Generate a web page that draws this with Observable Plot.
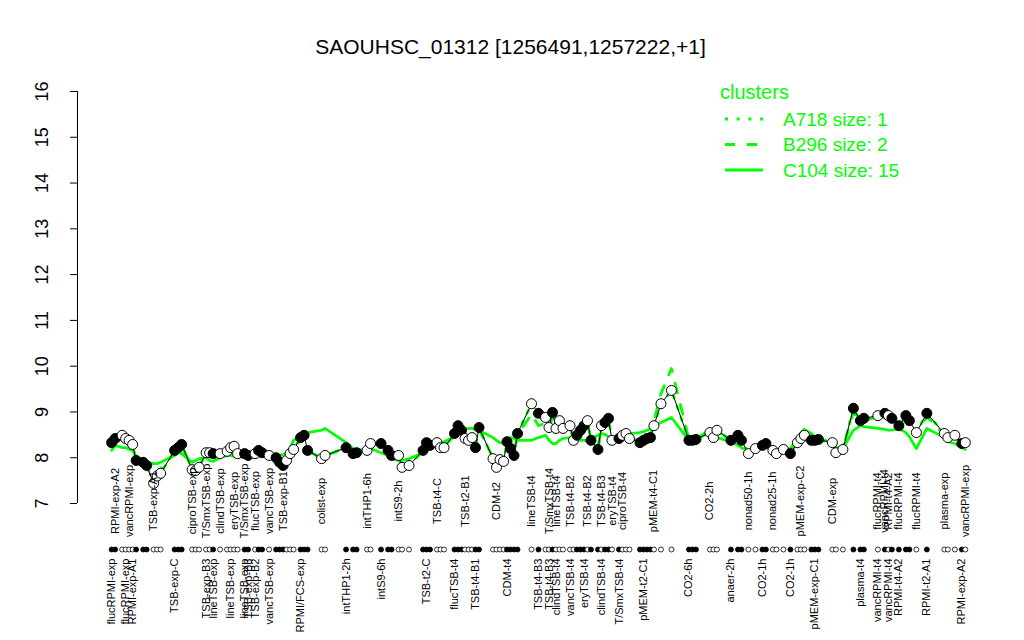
<!DOCTYPE html>
<html><head><meta charset="utf-8">
<script src="https://cdn.jsdelivr.net/npm/d3@7"></script>
<script src="https://cdn.jsdelivr.net/npm/@observablehq/plot@0.6"></script>
<style>body{margin:0;background:#fff;} #chart{position:relative;width:1024px;height:640px;}</style>
</head><body><div id="chart"></div>
<script>
const title = "SAOUHSC_01312 [1256491,1257222,+1]";
const yTicks = [7,8,9,10,11,12,13,14,15,16];

// sample order position of each condition
const positions = [0,1,3,4,5,6,7,9,10,12,
 13,14,18,19,20,23,24,25,27,28,
 29,31,33,34,35,36,38,39,41,42,
 43,45,47,48,49,50,51,52,54,55,
 56,60,61,67,69,70,73,74,77,79,
 80,82,83,85,89,90,91,93,94,95,
 98,99,100,101,102,103,104,105,109,110,
 111,112,113,114,115,116,120,122,124,125,
 126,127,128,129,131,132,133,134,135,136,
 137,139,140,141,142,143,145,146,147,148,
 151,152,153,154,155,157,160,165,166,167,
 171,172,173,177,179,180,182,184,186,187,
 189,190,192,194,196,197,198,200,201,202,
 206,207,209,212,214,215,219,221,222,223,
 225,227,228,230,233,238,239,241,243,244];

// expression of this gene
const values = [8.33,8.42,8.49,8.42,8.38,8.29,7.94,7.90,7.83,7.44,
 7.60,7.66,8.16,8.22,8.29,7.74,7.72,7.79,8.11,8.11,
 8.09,8.09,8.14,8.22,8.25,8.09,8.09,8.05,8.09,8.16,
 8.11,8.05,8.00,7.90,7.83,7.94,8.09,8.18,8.44,8.49,
 8.16,7.98,8.05,8.22,8.09,8.11,8.16,8.31,8.31,8.16,
 8.05,8.05,7.79,7.83,8.16,8.33,8.27,8.33,8.22,8.22,
 8.53,8.70,8.60,8.42,8.38,8.44,8.22,8.66,7.98,7.79,
 7.96,7.92,8.35,8.20,8.05,8.53,9.18,8.97,8.88,8.66,
 8.99,8.64,8.81,8.64,8.70,8.38,8.49,8.60,8.70,8.81,
 8.38,8.18,8.70,8.77,8.86,8.38,8.42,8.49,8.53,8.42,
 8.33,8.38,8.42,8.44,8.70,9.18,9.47,8.38,8.38,8.40,
 8.55,8.44,8.60,8.38,8.49,8.38,8.09,8.20,8.27,8.31,
 8.16,8.09,8.18,8.09,8.33,8.42,8.49,8.38,8.38,8.40,
 8.33,8.11,8.18,9.08,8.81,8.86,8.92,8.97,8.92,8.86,
 8.70,8.92,8.81,8.55,8.97,8.53,8.44,8.49,8.31,8.33];

// 1 = filled group marker, 0 = open
const filled = [1,1,0,0,0,0,1,1,1,0,
 0,0,1,1,1,0,0,0,0,0,
 1,0,0,0,0,0,1,1,0,1,
 1,0,1,1,1,0,0,0,1,1,
 1,0,0,1,1,1,0,0,1,1,
 1,0,0,0,1,1,1,0,0,0,
 1,1,1,0,0,0,1,1,0,0,
 0,0,1,1,1,1,0,1,0,0,
 1,0,0,0,0,0,1,1,1,0,
 1,1,0,1,1,0,1,0,0,0,
 1,1,1,1,0,0,0,1,1,1,
 0,0,0,1,1,1,0,0,1,1,
 0,0,0,1,0,0,0,1,1,1,
 0,0,0,1,1,1,0,1,0,1,
 1,1,1,0,1,0,0,0,1,0];

// cluster mean profiles
const clusterC104 = [8.16,8.27,8.22,8.22,8.18,8.16,8.03,7.94,7.90,7.87,
 7.87,7.90,8.05,8.11,8.09,7.90,7.94,7.98,8.00,7.94,
 7.92,8.00,8.05,8.05,8.03,8.00,8.03,8.00,8.03,8.05,
 8.07,8.03,8.05,8.05,8.07,8.11,8.20,8.38,8.49,8.53,
 8.55,8.60,8.64,8.33,8.20,8.16,8.20,8.20,8.11,8.05,
 7.98,7.94,7.94,7.98,8.11,8.16,8.20,8.27,8.31,8.35,
 8.46,8.55,8.60,8.62,8.64,8.64,8.62,8.60,8.44,8.38,
 8.33,8.33,8.42,8.44,8.42,8.38,8.38,8.44,8.49,8.38,
 8.31,8.31,8.38,8.42,8.44,8.42,8.40,8.38,8.38,8.38,
 8.42,8.49,8.53,8.51,8.46,8.44,8.46,8.49,8.51,8.53,
 8.55,8.57,8.60,8.64,8.70,8.77,8.88,8.38,8.38,8.42,
 8.60,8.49,8.44,8.35,8.27,8.22,8.16,8.22,8.27,8.22,
 8.16,8.16,8.18,8.20,8.42,8.55,8.62,8.53,8.46,8.44,
 8.31,8.22,8.20,8.60,8.70,8.68,8.64,8.62,8.60,8.60,
 8.64,8.55,8.46,8.20,8.64,8.44,8.35,8.31,8.22,8.18];

const clusterB296 = [8.25,8.35,8.40,8.35,8.30,8.20,7.95,7.90,7.85,7.60,
 7.70,7.75,8.10,8.20,8.25,7.80,7.78,7.82,8.10,8.10,
 8.08,8.08,8.12,8.20,8.22,8.10,8.08,8.05,8.08,8.14,
 8.10,8.05,8.00,7.92,7.86,7.95,8.08,8.16,8.40,8.45,
 8.15,8.00,8.05,8.20,8.10,8.10,8.15,8.28,8.28,8.15,
 8.05,8.02,7.82,7.85,8.15,8.30,8.25,8.30,8.22,8.22,
 8.50,8.65,8.58,8.42,8.38,8.42,8.22,8.62,8.00,7.82,
 7.96,7.95,8.30,8.20,8.08,8.50,8.95,8.70,8.75,8.62,
 8.90,8.62,8.75,8.62,8.68,8.40,8.48,8.58,8.68,8.75,
 8.40,8.22,8.65,8.72,8.80,8.40,8.42,8.48,8.52,8.44,
 8.36,8.40,8.44,8.48,8.80,9.40,9.95,8.40,8.40,8.42,
 8.55,8.45,8.58,8.40,8.48,8.38,8.12,8.20,8.26,8.30,
 8.16,8.10,8.18,8.10,8.32,8.40,8.48,8.38,8.38,8.40,
 8.32,8.14,8.20,9.00,8.78,8.82,8.88,8.92,8.88,8.82,
 8.70,8.88,8.78,8.50,8.90,8.50,8.44,8.46,8.32,8.30];

// [point number (1-based), label]
const topLabels = [[2,"RPMI-exp-A2"],[5,"vancRPMI-exp"],[10,"TSB-exp-A1"],[16,"ciproTSB-exp"],
 [19,"T/SmxTSB-exp"],[22,"clindTSB-exp"],[25,"eryTSB-exp"],[27,"T/SmxTSB-exp"],[29,"flucTSB-exp"],
 [32,"vancTSB-exp"],[35,"TSB-exp-B1"],[42,"colist-exp"],[47,"intTHP1-6h"],[52,"intS9-2h"],
 [58,"TSB-t4-C"],[64,"TSB-t2-B1"],[70,"CDM-t2"],[77,"lineTSB-t4"],[80,"T/SmxTSB-t4"],
 [82,"lineTSB-t4"],[85,"TSB-t4-B2"],[90,"TSB-t4-B2"],[93,"TSB-t4-B3"],[96,"eryTSB-t4"],
 [98,"ciproTSB-t4"],[105,"pMEM-t4-C1"],[111,"CO2-2h"],[117,"nonad50-1h"],[121,"nonad25-1h"],
 [126,"pMEM-exp-C2"],[131,"CDM-exp"],[137,"flucRPMI-t4"],[138,"vancRPMI-t4"],[139,"RPMI-t4-A2"],
 [141,"flucRPMI-t4"],[144,"flucRPMI-t4"],[146,"plasma-exp"],[150,"vancRPMI-exp"]];

const bottomLabels = [[1,"flucRPMI-exp"],[4,"flucRPMI-exp"],[6,"RPMI-exp-A1"],[13,"TSB-exp-C"],
 [19,"TSB-exp-B3"],[21,"lineTSB-exp"],[24,"lineTSB-exp"],[27,"lineTSB-exp"],[28,"TSB-exp-B3"],
 [29,"TSB-exp-B2"],[32,"vancTSB-exp"],[39,"RPMI/FCS-exp"],[44,"intTHP1-2h"],[49,"intS9-6h"],
 [56,"TSB-t2-C"],[61,"flucTSB-t4"],[67,"TSB-t4-B1"],[73,"CDM-t4"],[78,"TSB-t4-B3"],[80,"TSB-t4-B3"],
 [82,"clindTSB-t4"],[85,"vancTSB-t4"],[89,"eryTSB-t4"],[93,"clindTSB-t4"],[97,"T/SmxTSB-t4"],
 [102,"pMEM-t2-C1"],[108,"CO2-6h"],[114,"anaer-2h"],[119,"CO2-1h"],[124,"CO2-1h"],
 [129,"pMEM-exp-C1"],[135,"plasma-t4"],[137,"vancRPMI-t4"],[139,"vancRPMI-t4"],[141,"RPMI-t4-A2"],
 [145,"RPMI-t2-A1"],[149,"RPMI-exp-A2"]];

const legendTitle = "clusters";
const legendItems = [["A718 size: 1","dotted"],["B296 size: 2","dashed"],["C104 size: 15","solid"]];

const GREEN = "#00ff00";
const FONT = "'Liberation Sans', Arial, Helvetica, sans-serif";
const DOTTED = "3,8.7", DASHED = "10,12";

const points = values.map((v, i) => ({
  pos: positions[i], value: v, filled: filled[i],
  c104: clusterC104[i], b296: clusterB296[i]
}));
const toLabel = ([n, t]) => ({pos: positions[n - 1], text: t});
const topData = topLabels.map(toLabel);
const bottomData = bottomLabels.map(toLabel);

const pmin = d3.min(positions), pmax = d3.max(positions), span = pmax - pmin;
const xDomain = [pmin - 0.04 * span, pmax + 0.04 * span];
const fillOf = d => d.filled ? "black" : "white";

const chart = Plot.plot({
  width: 1024, height: 640,
  marginLeft: 77, marginRight: 25, marginTop: 74.5, marginBottom: 120.5,
  style: {fontFamily: FONT, background: "white", color: "black"},
  x: {domain: xDomain, axis: null},
  y: {domain: [6.64, 16.36], axis: null},
  color: {type: "identity"},
  marks: [
    Plot.axisY({ticks: yTicks, tickSize: 7, tickFormat: () => "", label: null, strokeWidth: 1}),
    Plot.ruleX([xDomain[0]], {y1: yTicks[0], y2: yTicks[yTicks.length - 1], stroke: "black", strokeWidth: 1}),
    Plot.text(yTicks, {y: d => d, text: d => String(d), frameAnchor: "left", dx: -35, rotate: -90,
      textAnchor: "middle", lineAnchor: "middle", fontSize: 18, fill: "black"}),
    Plot.text([title], {frameAnchor: "top", dy: -27.5, dx: -28, lineAnchor: "middle", fontSize: 21, fill: "black"}),
    Plot.line(points, {x: "pos", y: "value", stroke: GREEN, strokeWidth: 2.8, strokeDasharray: DOTTED}),
    Plot.line(points, {x: "pos", y: "b296", stroke: GREEN, strokeWidth: 2.8, strokeDasharray: DASHED}),
    Plot.line(points, {x: "pos", y: "c104", stroke: GREEN, strokeWidth: 2.7}),
    Plot.line(points, {x: "pos", y: "value", stroke: "black", strokeWidth: 1}),
    Plot.dot(points, {x: "pos", y: "value", r: 5, fill: fillOf, stroke: "black", strokeWidth: 1}),
    Plot.dot(points, {x: "pos", frameAnchor: "bottom", dy: 29.5, r: 2.5, fill: fillOf, stroke: "black", strokeWidth: 0.8}),
    Plot.text(topData, {x: "pos", text: "text", frameAnchor: "bottom", dy: -19, rotate: -90,
      textAnchor: "middle", lineAnchor: "middle", fontSize: 11, fill: "black"}),
    Plot.text(bottomData, {x: "pos", text: "text", frameAnchor: "bottom", dy: 38.5, rotate: -90,
      textAnchor: "end", lineAnchor: "middle", fontSize: 11, fill: "black"})
  ]
});
document.getElementById("chart").appendChild(chart);

// legend
const svg = d3.select(chart);
const g = svg.append("g").attr("font-family", FONT).attr("text-anchor", "start");
g.append("text").attr("x", 720).attr("y", 92).attr("dy", "0.35em").attr("font-size", 20).attr("fill", GREEN).text(legendTitle);
legendItems.forEach(([name, kind], i) => {
  const y = 119 + i * 25.5;
  g.append("line").attr("x1", 725).attr("x2", 763).attr("y1", y).attr("y2", y)
    .attr("stroke", GREEN).attr("stroke-width", 2.8)
    .attr("stroke-dasharray", kind === "dotted" ? DOTTED : kind === "dashed" ? DASHED : null);
  g.append("text").attr("x", 783).attr("y", y).attr("dy", "0.35em").attr("font-size", 19).attr("fill", GREEN).text(name);
});
</script>
</body></html>
